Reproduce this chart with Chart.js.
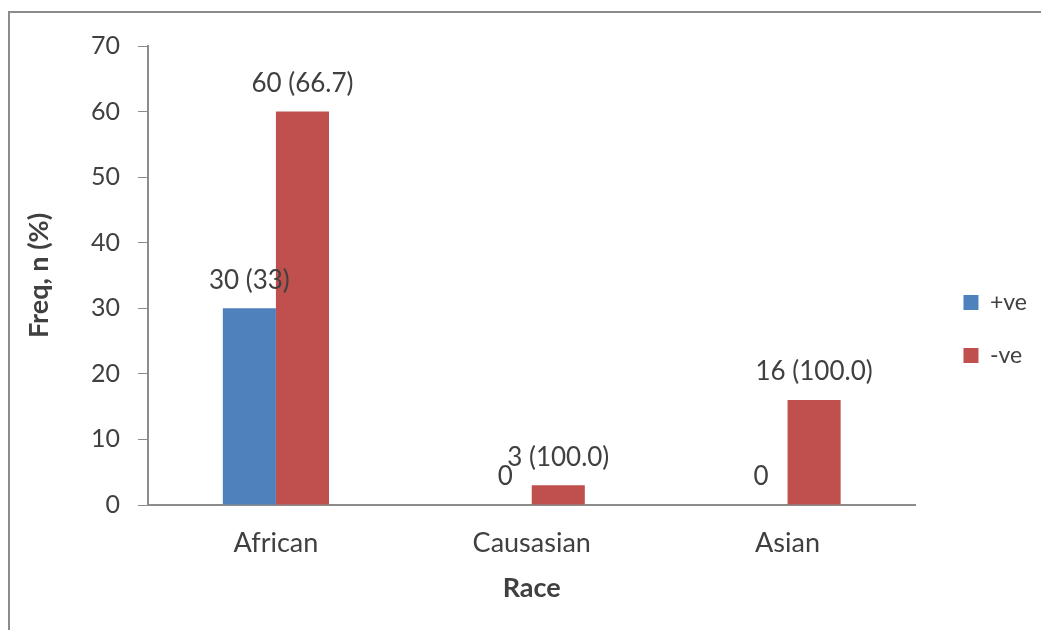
<!DOCTYPE html>
<html>
<head>
<meta charset="utf-8">
<script src="https://cdn.jsdelivr.net/npm/chart.js@4/dist/chart.umd.min.js"></script>
<style>
  html, body { margin:0; padding:0; background:#fff; }
  #wrap { position:relative; width:1041px; height:630px; overflow:hidden; }
  #frame { position:absolute; left:8px; top:11px; width:1100px; height:700px; border-top:2px solid #8c8c8c; border-left:2px solid #8c8c8c; }
  canvas { position:absolute; left:0; top:0; }
</style>
</head>
<body>
<div id="wrap">
  <div id="frame"></div>
  <canvas id="c" width="1041" height="630"></canvas>
</div>
<script>
const races = ['African', 'Causasian', 'Asian'];
const posValues = [30, 0, 0];
const negValues = [60, 3, 16];
const posLabels = ['30 (33)', '0', '0'];
const negLabels = ['60 (66.7)', '3 (100.0)', '16 (100.0)'];

const txt = '#404040';
const axisCol = '#8c8c8c';
const fam = 'Lato, "Open Sans", sans-serif';

// value labels above each bar
const barLabels = {
  id: 'barLabels',
  afterDatasetsDraw(chart){
    const ctx = chart.ctx;
    const all = [posLabels, negLabels];
    ctx.save();
    ctx.font = '26px ' + fam;
    ctx.fillStyle = txt;
    ctx.textAlign = 'center';
    ctx.textBaseline = 'middle';
    chart.data.datasets.forEach((ds, i)=>{
      chart.getDatasetMeta(i).data.forEach((el, k)=>{
        ctx.fillText(all[i][k], el.x, el.y - 28);
      });
    });
    ctx.restore();
  }
};

// push the legend a bit further from the plot, like the excel original
const legendNudge = {
  id: 'legendNudge',
  afterLayout(chart){
    const l = chart.legend;
    l.left += 18; l.right += 18;
    l.top -= 9; l.bottom -= 9;
  }
};

new Chart(document.getElementById('c'), {
  type: 'bar',
  data: {
    labels: races,
    datasets: [
      { label: '+ve', data: posValues, backgroundColor: '#4f81bd' },
      { label: '-ve', data: negValues, backgroundColor: '#c0504d' }
    ]
  },
  options: {
    responsive: false,
    animation: false,
    layout: { padding: { top: 46, right: 22, bottom: 0, left: 0 } },
    categoryPercentage: 0.415,
    barPercentage: 1,
    plugins: {
      tooltip: { enabled: false },
      legend: {
        position: 'right',
        labels: { boxWidth: 15, boxHeight: 15, padding: 30, color: txt, font: { family: fam, size: 23 } }
      }
    },
    scales: {
      y: {
        min: 0, max: 70,
        ticks: { stepSize: 10, padding: 18, color: txt, font: { family: fam, size: 25 } },
        grid: { drawOnChartArea: false, drawTicks: true, tickLength: 10, color: axisCol },
        border: { color: axisCol, width: 2 },
        title: { display: true, text: 'Freq, n (%)', color: txt, padding: { top: 23, bottom: 0 }, font: { family: fam, size: 27, weight: 'bold' } },
        afterFit(s){ s.width = 148; }
      },
      x: {
        ticks: { padding: 14, color: txt, font: { family: fam, size: 27 } },
        grid: { display: false },
        border: { color: axisCol, width: 2 },
        title: { display: true, text: 'Race', color: txt, padding: { top: 0, bottom: 26 }, font: { family: fam, size: 27, weight: 'bold' } },
        afterFit(s){ s.height = 125; }
      }
    }
  },
  plugins: [barLabels, legendNudge]
});
</script>
</body>
</html>
